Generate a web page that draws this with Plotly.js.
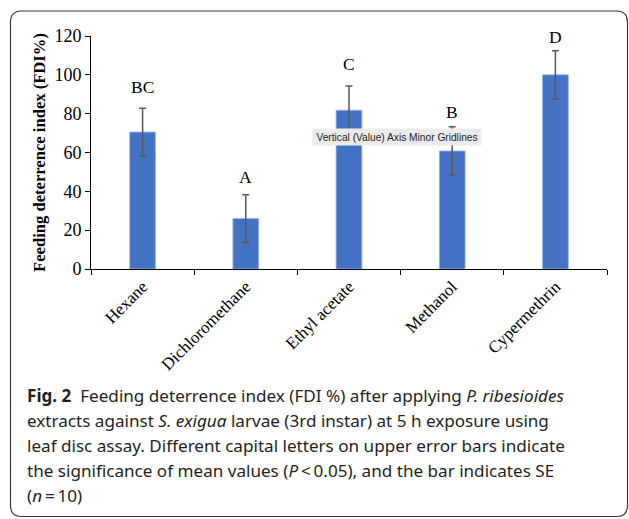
<!DOCTYPE html>
<html>
<head>
<meta charset="utf-8">
<script src="https://cdn.plot.ly/plotly-3.0.1.min.js"></script>
<style>
  html, body { margin: 0; padding: 0; background: #fff; }
  #chart { width: 629px; height: 519px; }
</style>
</head>
<body>
<div id="chart"></div>
<script>
// ---- data ----
const categories = ['Hexane', 'Dichloromethane', 'Ethyl acetate', 'Methanol', 'Cypermethrin'];
const fdiMean = [70.5, 26.0, 81.8, 60.8, 100.0];
const fdiSE = [12.3, 12.3, 12.4, 12.4, 12.4];
const groupLetters = ['BC', 'A', 'C', 'B', 'D'];
const letterHeights = [93.7, 47.2, 105.6, 80.7, 119.6];
const yTickValues = [0, 20, 40, 60, 80, 100, 120];

const captionLines = [
  '<b>Fig. 2</b>  Feeding deterrence index (FDI %) after applying <i>P. ribesioides</i>',
  'extracts against <i>S. exigua</i> larvae (3rd instar) at 5 h exposure using',
  'leaf disc assay. Different capital letters on upper error bars indicate',
  'the significance of mean values (<i>P</i>&#8201;&lt;&#8201;0.05), and the bar indicates SE',
  '(<i>n</i>&#8201;=&#8201;10)'
];

// ---- layout geometry ----
const W = 629, H = 519;
const M = { l: 91, r: 22, t: 36, b: 250 };
const PW = W - M.l - M.r, PH = H - M.t - M.b;
const px = x => (x - M.l) / PW;
const py = y => (H - M.b - y) / PH;

const serif = '"Liberation Serif", "Times New Roman", serif';
const sans = '"Noto Sans", "Open Sans", sans-serif';

const trace = {
  type: 'bar',
  x: categories,
  y: fdiMean,
  width: 0.25,
  marker: { color: '#4472C4', line: { color: '#9db5e3', width: 0.8 } },
  error_y: { type: 'data', array: fdiSE, visible: true, color: '#595959', thickness: 1.5, width: 3.5 },
  hoverinfo: 'none'
};

const annotations = [];
categories.forEach((c, i) => {
  annotations.push({
    x: c, y: letterHeights[i], xref: 'x', yref: 'y',
    text: groupLetters[i], showarrow: false,
    xanchor: 'center', yanchor: 'middle',
    font: { family: serif, size: 17.5, color: '#000' }
  });
});

// tooltip-like label seen in the reference
annotations.push({
  xref: 'paper', yref: 'paper', x: px(396.7), y: py(137),
  xanchor: 'center', yanchor: 'middle',
  text: 'Vertical (Value) Axis Minor Gridlines', showarrow: false,
  bgcolor: '#ebebeb', width: 166, height: 14,
  font: { family: '"Liberation Sans", Arial, sans-serif', size: 10.2, color: '#222' }
});

// caption
const captionY = [395, 420, 445, 470, 495];
captionLines.forEach((t, i) => {
  annotations.push({
    xref: 'paper', yref: 'paper', x: px(25), y: py(captionY[i]),
    xanchor: 'left', yanchor: 'middle', align: 'left',
    text: t, showarrow: false,
    font: { family: sans, size: 17.1, color: '#231f20' }
  });
});

// rounded frame
const x0 = 10.5, y0 = 11, x1 = 627.5, y1 = 516.5, r = 11;
const P = (x, y) => px(x) + ',' + py(y);
const framePath = 'M' + P(x0 + r, y0) + ' L' + P(x1 - r, y0) + ' Q' + P(x1, y0) + ' ' + P(x1, y0 + r) +
  ' L' + P(x1, y1 - r) + ' Q' + P(x1, y1) + ' ' + P(x1 - r, y1) +
  ' L' + P(x0 + r, y1) + ' Q' + P(x0, y1) + ' ' + P(x0, y1 - r) +
  ' L' + P(x0, y0 + r) + ' Q' + P(x0, y0) + ' ' + P(x0 + r, y0) + ' Z';

const layout = {
  width: W, height: H,
  margin: M,
  paper_bgcolor: '#fff', plot_bgcolor: '#fff',
  showlegend: false,
  bargap: 0,
  xaxis: {
    type: 'category',
    showline: true, linecolor: '#000', linewidth: 1,
    ticks: 'outside', tickson: 'boundaries', ticklen: 5, tickcolor: '#000',
    tickangle: -45,
    tickfont: { family: serif, size: 17, color: '#000' },
    showgrid: false, zeroline: false, fixedrange: true
  },
  yaxis: {
    range: [0, 120],
    tickvals: yTickValues,
    showline: true, linecolor: '#000', linewidth: 1,
    ticks: 'outside', ticklen: 5, tickcolor: '#000',
    tickfont: { family: serif, size: 18, color: '#000' },
    showgrid: false, zeroline: false, fixedrange: true,
    title: { text: 'Feeding deterrence index (FDI%)', standoff: 4,
             font: { family: serif, size: 16.6, color: '#000', weight: 'bold' } }
  },
  annotations: annotations,
  shapes: [{
    type: 'path', xref: 'paper', yref: 'paper', path: framePath,
    line: { color: '#3a3a3a', width: 1.2 }, layer: 'below'
  }]
};

Plotly.newPlot('chart', [trace], layout, { displayModeBar: false, staticPlot: true });
</script>
</body>
</html>
